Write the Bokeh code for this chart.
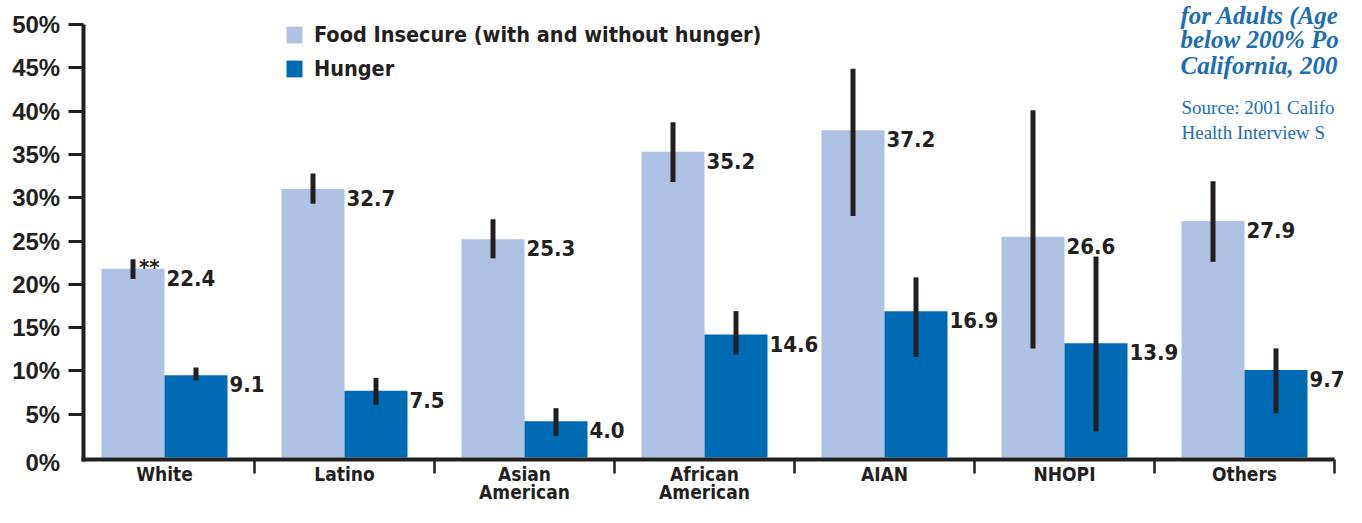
from bokeh.plotting import figure
from bokeh.models import (ColumnDataSource, FixedTicker, Label, Legend,
                          LegendItem, Range1d)
from bokeh.core.properties import value
from bokeh.transform import dodge
from bokeh.embed import file_html
from bokeh.resources import INLINE

# ---------------- data ----------------
categories = ["White", "Latino", "Asian\nAmerican", "African\nAmerican",
              "AIAN", "NHOPI", "Others"]
food_insecure = [21.8, 31.0, 25.2, 35.3, 37.8, 25.5, 27.3]
food_insecure_labels = ["22.4", "32.7", "25.3", "35.2", "37.2", "26.6", "27.9"]
food_lo = [20.6, 29.3, 23.0, 31.8, 27.9, 12.6, 22.6]
food_hi = [22.9, 32.8, 27.5, 38.7, 44.9, 40.1, 31.9]
hunger = [9.5, 7.7, 4.2, 14.2, 16.9, 13.2, 10.1]
hunger_labels = ["9.1", "7.5", "4.0", "14.6", "16.9", "13.9", "9.7"]
hunger_lo = [8.9, 6.1, 2.5, 11.9, 11.6, 3.0, 5.1]
hunger_hi = [10.4, 9.2, 5.7, 16.9, 20.8, 23.2, 12.6]
y_ticks = [5, 10, 15, 20, 25, 30, 35, 40, 45, 50]
y_tick_labels = {t: f"{t}%" for t in y_ticks}
zero_label = "0%"
legend_labels = ["Food Insecure (with and without hunger)", "Hunger"]
title_lines = ["for Adults (Age", "below 200% Po", "California, 200"]
source_lines = ["Source: 2001 Califo", "Health Interview S"]
significance_mark = "**"

# ---------------- style / layout ----------------
LIGHT = "#aec2e3"
DARK = "#006bb5"
INK = "#231f20"
BLUE = "#1c6db4"
COND = "DejaVu Sans Condensed, Liberation Sans"
W, H = 1346, 507
X0_PX, XPX = 164.0, 180.0     # canvas px of category 0 centre, px per category
Y0_PX, YPX = 457.0, 8.66      # canvas px of 0 %, px per percent
X_START, X_END = -X0_PX / XPX, (W - X0_PX) / XPX
Y_START, Y_END = -(H - Y0_PX) / YPX, Y0_PX / YPX
BAR_W = 0.35
YAXIS_X = (82.7 - X0_PX) / XPX
XAXIS_Y = -2.0 / YPX


def dx(cx):
    return (cx - X0_PX) / XPX


def dy(cy):
    return (Y0_PX - cy) / YPX


src = ColumnDataSource(dict(
    x=list(range(len(categories))),
    food=food_insecure, food_lab=food_insecure_labels,
    food_lo=food_lo, food_hi=food_hi,
    hunger=hunger, hunger_lab=hunger_labels,
    hunger_lo=hunger_lo, hunger_hi=hunger_hi,
))

p = figure(width=W, height=H, x_range=Range1d(X_START, X_END),
           y_range=Range1d(Y_START, Y_END), output_backend="svg",
           toolbar_location=None, min_border_left=0, min_border_right=0,
           min_border_top=0, min_border_bottom=0, outline_line_color=None)
p.grid.visible = False

r_food = p.vbar(x=dodge("x", -BAR_W / 2, range=p.x_range), top="food",
                width=BAR_W, bottom=0, source=src, fill_color=LIGHT,
                line_color=None)
r_hunger = p.vbar(x=dodge("x", BAR_W / 2, range=p.x_range), top="hunger",
                  width=BAR_W, bottom=0, source=src, fill_color=DARK,
                  line_color=None)

p.segment(x0=dodge("x", -BAR_W / 2, range=p.x_range), y0="food_lo",
          x1=dodge("x", -BAR_W / 2, range=p.x_range), y1="food_hi",
          source=src, line_color=INK, line_width=5)
p.segment(x0=dodge("x", BAR_W / 2, range=p.x_range), y0="hunger_lo",
          x1=dodge("x", BAR_W / 2, range=p.x_range), y1="hunger_hi",
          source=src, line_color=INK, line_width=5)

common = dict(text_font=value(COND), text_font_style="bold",
              text_font_size="22px", text_color=INK, text_align="left",
              text_baseline="top", source=src)
p.text(x=dodge("x", 0, range=p.x_range), y="food", text="food_lab",
       x_offset=2, y_offset=1, **common)
p.text(x=dodge("x", BAR_W, range=p.x_range), y="hunger", text="hunger_lab",
       x_offset=2, y_offset=1, **common)

# significance mark on White
p.add_layout(Label(x=0 - BAR_W / 2, y=food_hi[0], text=significance_mark,
                   x_offset=6, y_offset=4, text_baseline="top",
                   text_font=COND, text_font_style="bold",
                   text_font_size="22px", text_color=INK))

# x axis (fixed at the baseline)
xa = p.xaxis[0]
xa.fixed_location = XAXIS_Y
xa.ticker = FixedTicker(ticks=list(range(len(categories))),
                        minor_ticks=[i + 0.5 for i in range(len(categories))])
xa.major_label_overrides = {i: c for i, c in enumerate(categories)}
xa.bounds = (YAXIS_X - 2.0 / XPX, 6.5)
xa.axis_line_width = 4
xa.axis_line_color = INK
xa.major_tick_line_color = None
xa.major_tick_in = 0
xa.major_tick_out = 0
xa.minor_tick_in = 0
xa.minor_tick_out = 14
xa.minor_tick_line_width = 2.5
xa.minor_tick_line_color = INK
xa.major_label_standoff = -11
xa.major_label_text_font = COND
xa.major_label_text_font_style = "bold"
xa.major_label_text_font_size = "19px"
xa.major_label_text_color = INK
xa.major_label_text_line_height = 0.85

# y axis (fixed at its own position)
ya = p.yaxis[0]
ya.fixed_location = YAXIS_X
ya.ticker = FixedTicker(ticks=y_ticks)
ya.major_label_overrides = y_tick_labels
ya.bounds = (-4.0 / YPX, 50)
ya.axis_line_width = 4
ya.axis_line_color = INK
ya.major_tick_in = 0
ya.major_tick_out = 15
ya.major_tick_line_width = 3
ya.major_tick_line_color = INK
ya.minor_tick_line_color = None
ya.major_label_standoff = 8
ya.major_label_text_font = "Liberation Sans"
ya.major_label_text_font_style = "bold"
ya.major_label_text_font_size = "24px"
ya.major_label_text_color = INK

p.add_layout(Label(x=YAXIS_X, y=XAXIS_Y, x_offset=-23, y_offset=-3,
                   text=zero_label, text_align="right", text_baseline="middle",
                   text_font="Liberation Sans", text_font_style="bold",
                   text_font_size="24px", text_color=INK))

# legend
legend = Legend(items=[LegendItem(label=legend_labels[0], renderers=[r_food]),
                       LegendItem(label=legend_labels[1], renderers=[r_hunger])],
                location=(284, H - 19 - 64), padding=0, margin=0,
                border_line_color=None, background_fill_alpha=0,
                glyph_width=20, glyph_height=21, label_standoff=10, spacing=4,
                label_height=30,
                label_text_font=COND, label_text_font_style="bold",
                label_text_font_size="21.5px", label_text_color=INK)
p.add_layout(legend)

# title / source text at top right (kept inside the canvas)
for line, cy in zip(title_lines, [15, 39.3, 65]):
    p.add_layout(Label(x=dx(1180), y=dy(cy), text=line,
                       text_baseline="alphabetic", text_font="Liberation Serif",
                       text_font_style="bold italic", text_font_size="25px",
                       text_color=BLUE))
for line, cy in zip(source_lines, [107.3, 131.7]):
    p.add_layout(Label(x=dx(1181), y=dy(cy), text=line,
                       text_baseline="alphabetic", text_font="Liberation Serif",
                       text_font_size="19px", text_color=BLUE))

open("out.html", "w").write(file_html(p, INLINE))
